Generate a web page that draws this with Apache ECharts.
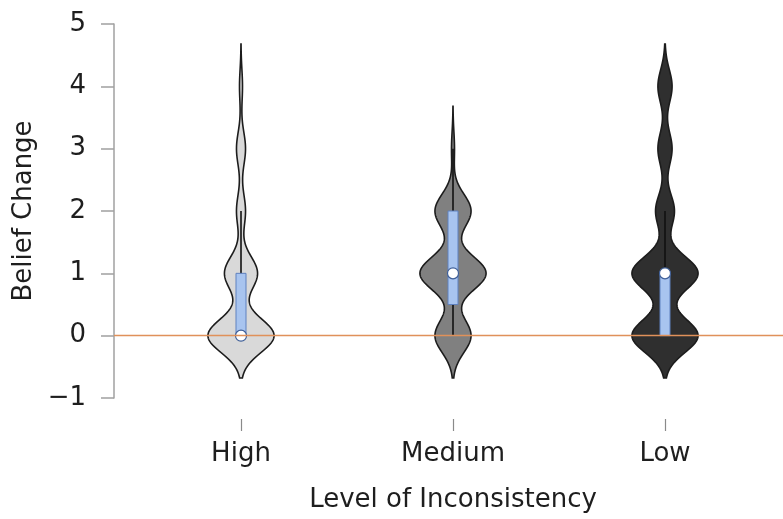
<!DOCTYPE html>
<html>
<head>
<meta charset="utf-8">
<script src="https://cdn.jsdelivr.net/npm/echarts@6/dist/echarts.min.js"></script>
<style>
  html, body { margin: 0; padding: 0; background: #fff; }
  #chart { width: 783px; height: 519px; }
</style>
</head>
<body>
<div id="chart"></div>
<script>
// Groups along the x axis
const categories = ['High', 'Medium', 'Low'];

// Belief-change response levels and how many responses fell on each, per group
const levels = [0, 1, 2, 3, 4];
const countsHigh = [22, 11, 3, 3, 1];
const countsMedium = [12, 22, 12, 1, 0];
const countsLow = [14, 14, 4, 3, 3];

// Box summaries per group: [whisker low, Q1, median, Q3, whisker high]
const boxHigh = [0, 0, 0, 1, 2];
const boxMedium = [0, 0.5, 1, 2, 3];
const boxLow = [0, 0, 1, 1, 2];

// Value-axis ticks
const yTicks = [-1, 0, 1, 2, 3, 4, 5];

const allCounts = [countsHigh, countsMedium, countsLow];
const allBoxes = [boxHigh, boxMedium, boxLow];
const violinFills = ['#d9d9d9', '#808080', '#2f2f2f'];

const bandwidth = 0.27;
const tail = 0.68;
const maxHalfWidth = 0.156; // fraction of one category band

// Gaussian kernel density profile for one group, normalised to its peak
function densityProfile(counts) {
  const present = levels.filter((v, i) => counts[i] > 0);
  const lo = Math.min(...present) - tail;
  const hi = Math.max(...present) + tail;
  const pts = [];
  for (let y = lo; y <= hi + 1e-9; y += 0.01) {
    let d = 0;
    levels.forEach((v, i) => {
      const z = (y - v) / bandwidth;
      d += counts[i] * Math.exp(-0.5 * z * z);
    });
    pts.push([y, d]);
  }
  const peak = Math.max(...pts.map(p => p[1]));
  return pts.map(p => [p[0], p[1] / peak]);
}

const profiles = allCounts.map(densityProfile);

const chart = echarts.init(document.getElementById('chart'));
const font = 'DejaVu Sans';
const textColor = '#1e1e1e';
const yMin = yTicks[0];
const yMax = yTicks[yTicks.length - 1];

chart.setOption({
  animation: false,
  backgroundColor: '#ffffff',
  grid: [
    // category bands holding the violins
    { left: 135, right: 12, top: 24, bottom: 121, outerBoundsMode: 'none' },
    // full plotting frame carrying the value axis and zero line
    { left: 114, right: 0, top: 24, bottom: 121, outerBoundsMode: 'none' }
  ],
  xAxis: [
    {
      type: 'category',
      gridIndex: 0,
      data: categories,
      boundaryGap: true,
      offset: 21,
      // axis line kept in the background colour so only the ticks stand out
      axisLine: { show: true, onZero: false, lineStyle: { color: '#ffffff', width: 1 } },
      splitLine: { show: false },
      axisTick: {
        show: true, alignWithLabel: true, length: 12, inside: false,
        lineStyle: { color: '#8a8a8a', width: 1.2 }
      },
      axisLabel: {
        margin: 22, interval: 0,
        fontFamily: font, fontSize: 26, color: textColor
      },
      name: 'Level of Inconsistency',
      nameLocation: 'middle',
      nameGap: 68,
      nameTextStyle: { fontFamily: font, fontSize: 26, color: textColor }
    },
    {
      type: 'value',
      gridIndex: 1,
      min: 0,
      max: 1,
      show: false
    }
  ],
  yAxis: [
    {
      type: 'value',
      gridIndex: 0,
      min: yMin,
      max: yMax,
      interval: 1,
      show: false
    },
    {
      type: 'value',
      gridIndex: 1,
      min: yMin,
      max: yMax,
      interval: 1,
      splitLine: { show: false },
      axisLine: { show: true, lineStyle: { color: '#a0a0a0', width: 1.5 } },
      axisTick: { show: true, length: 13, lineStyle: { color: '#a0a0a0', width: 1.5 } },
      axisLabel: {
        margin: 28,
        fontFamily: font, fontSize: 26, color: textColor,
        formatter: v => (v < 0 ? '\u2212' + Math.abs(v) : String(v))
      },
      name: 'Belief Change',
      nameLocation: 'middle',
      nameGap: 73,
      nameTextStyle: { fontFamily: font, fontSize: 26, color: textColor }
    }
  ],
  series: [
    {
      // violin bodies
      type: 'custom',
      xAxisIndex: 0,
      yAxisIndex: 0,
      z: 2,
      data: categories.map((c, i) => [i]),
      renderItem: function (params, api) {
        const idx = params.dataIndex;
        const cat = api.value(0);
        const band = api.size([1, 0])[0];
        const prof = profiles[idx];
        const right = prof.map(p => {
          const c = api.coord([cat, p[0]]);
          return [c[0] + p[1] * maxHalfWidth * band, c[1]];
        });
        const left = prof.slice().reverse().map(p => {
          const c = api.coord([cat, p[0]]);
          return [c[0] - p[1] * maxHalfWidth * band, c[1]];
        });
        return {
          type: 'polygon',
          shape: { points: right.concat(left) },
          style: { fill: violinFills[idx], stroke: '#1c1c1c', lineWidth: 1.6 }
        };
      }
    },
    {
      // zero reference line
      type: 'line',
      xAxisIndex: 1,
      yAxisIndex: 1,
      z: 3,
      data: [],
      markLine: {
        silent: true,
        symbol: 'none',
        label: { show: false },
        lineStyle: { color: '#e0915a', width: 1.3, type: 'solid' },
        data: [{ yAxis: 0 }]
      }
    },
    {
      // whiskers, interquartile boxes and medians
      type: 'custom',
      xAxisIndex: 0,
      yAxisIndex: 0,
      z: 4,
      data: allBoxes.map((b, i) => [i].concat(b)),
      renderItem: function (params, api) {
        const cat = api.value(0);
        const wl = api.coord([cat, api.value(1)]);
        const q1 = api.coord([cat, api.value(2)]);
        const md = api.coord([cat, api.value(3)]);
        const q3 = api.coord([cat, api.value(4)]);
        const wh = api.coord([cat, api.value(5)]);
        const bw = 10;
        return {
          type: 'group',
          children: [
            {
              type: 'line',
              shape: { x1: wl[0], y1: wl[1], x2: wh[0], y2: wh[1] },
              style: { stroke: '#111111', lineWidth: 1.6 }
            },
            {
              type: 'rect',
              shape: { x: q3[0] - bw / 2, y: q3[1], width: bw, height: q1[1] - q3[1] },
              style: { fill: '#a8c4ef', stroke: '#5f81bf', lineWidth: 1 }
            },
            {
              type: 'circle',
              shape: { cx: md[0], cy: md[1], r: 5.5 },
              style: { fill: '#ffffff', stroke: '#3f5f98', lineWidth: 1.2 }
            }
          ]
        };
      }
    }
  ]
});
</script>
</body>
</html>
